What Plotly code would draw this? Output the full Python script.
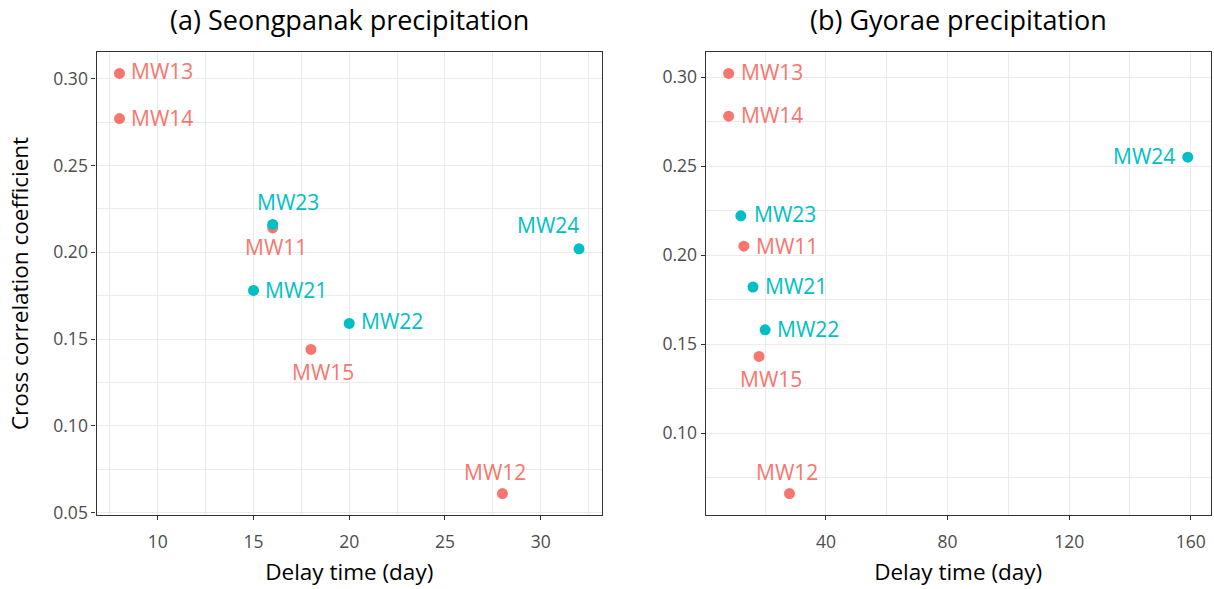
import plotly.graph_objects as go

# ---------------- data ----------------
wells = ["MW13", "MW14", "MW23", "MW11", "MW24", "MW21", "MW22", "MW15", "MW12"]
group = ["MW1", "MW1", "MW2", "MW1", "MW2", "MW2", "MW2", "MW1", "MW1"]

seong_delay = [8, 8, 16, 16, 32, 15, 20, 18, 28]
seong_corr = [0.303, 0.277, 0.216, 0.214, 0.202, 0.178, 0.159, 0.144, 0.061]

gyorae_delay = [8, 8, 12, 13, 159, 16, 20, 18, 28]
gyorae_corr = [0.302, 0.278, 0.222, 0.205, 0.255, 0.182, 0.158, 0.143, 0.066]

panel_titles = ["(a) Seongpanak precipitation", "(b) Gyorae precipitation"]
x_title = "Delay time (day)"
y_title = "Cross correlation coefficient"

# ---------------- styles ----------------
colors = {"MW1": "#F8766D", "MW2": "#00BFC4"}
FONT = "Open Sans"

# label placement (xanchor, xshift px, yshift px) for each well, per panel
seong_lab = {
    "MW13": ("left", 10, 2), "MW14": ("left", 10, 1), "MW23": ("center", 15, 22),
    "MW11": ("center", 3, -19), "MW24": ("center", -31, 24), "MW21": ("left", 9, 0),
    "MW22": ("left", 10, 2), "MW15": ("center", 12, -23), "MW12": ("center", -7, 22),
}
gyorae_lab = {
    "MW13": ("left", 10, 1), "MW14": ("left", 10, 1), "MW23": ("left", 11, 2),
    "MW11": ("left", 10, 0), "MW24": ("right", -11, 1), "MW21": ("left", 10, 1),
    "MW22": ("left", 10, 1), "MW15": ("center", 12, -23), "MW12": ("center", -2, 22),
}


def expand(vals, mult=0.05):
    lo, hi = min(vals), max(vals)
    d = (hi - lo) * mult
    return [lo - d, hi + d]


fig = go.Figure()

panels = [
    (seong_delay, seong_corr, seong_lab, "x", "y"),
    (gyorae_delay, gyorae_corr, gyorae_lab, "x2", "y2"),
]

for xs, ys, labs, xa, ya in panels:
    for g in ["MW1", "MW2"]:
        idx = [i for i, gg in enumerate(group) if gg == g]
        fig.add_trace(go.Scatter(
            x=[xs[i] for i in idx], y=[ys[i] for i in idx],
            mode="markers", xaxis=xa, yaxis=ya, showlegend=False,
            marker=dict(size=11, color=colors[g], line=dict(width=0)),
            hoverinfo="x+y",
        ))
    for i, w in enumerate(wells):
        anc, dx, dy = labs[w]
        fig.add_annotation(
            x=xs[i], y=ys[i], xref=xa, yref=ya, text=w, showarrow=False,
            xanchor=anc, yanchor="middle", xshift=dx, yshift=dy,
            font=dict(family=FONT, size=21, color=colors[group[i]]),
        )

grid_major = "#EBEBEB"
frame_col = "#333333"
tick_font = dict(family=FONT, size=17.5, color="#4D4D4D")
title_font = dict(family=FONT, size=22.5, color="#000000")

common_axis = dict(
    showline=True, mirror=True, linecolor=frame_col, linewidth=1.2,
    ticks="outside", ticklen=4, tickwidth=1.3, tickcolor=frame_col,
    showgrid=True, gridcolor=grid_major, gridwidth=1.4,
    zeroline=False, tickfont=tick_font,
)

H, W = 589, 1214
yb, yt = 1 - 522.5 / H, 1 - 53.3 / H
xl1, xr1 = 96.5 / W, 602 / W
xl2, xr2 = 705.7 / W, 1210.7 / W

fig.update_layout(
    width=W, height=H,
    margin=dict(l=0, r=0, t=0, b=0),
    paper_bgcolor="white", plot_bgcolor="white",
    xaxis=dict(domain=[xl1, xr1], range=expand(seong_delay),
               tick0=0, dtick=5, ticklabelstandoff=7,
               minor=dict(showgrid=True, gridcolor=grid_major, gridwidth=0.7, tick0=2.5, dtick=5, ticks=""),
               title=dict(text=x_title, font=title_font, standoff=12),
               anchor="y", **common_axis),
    yaxis=dict(domain=[yb, yt], range=expand(seong_corr),
               tick0=0, dtick=0.05, tickformat=".2f",
               minor=dict(showgrid=True, gridcolor=grid_major, gridwidth=0.7, tick0=0.025, dtick=0.05, ticks=""),
               title=dict(text=y_title, font=title_font, standoff=18),
               anchor="x", **common_axis),
    xaxis2=dict(domain=[xl2, xr2], range=expand(gyorae_delay),
                tick0=0, dtick=40, ticklabelstandoff=7,
                minor=dict(showgrid=True, gridcolor=grid_major, gridwidth=0.7, tick0=20, dtick=40, ticks=""),
                title=dict(text=x_title, font=title_font, standoff=12),
                anchor="y2", **common_axis),
    yaxis2=dict(domain=[yb, yt], range=expand(gyorae_corr),
                tick0=0, dtick=0.05, tickformat=".2f",
                minor=dict(showgrid=True, gridcolor=grid_major, gridwidth=0.7, tick0=0.025, dtick=0.05, ticks=""),
                anchor="x2", **common_axis),
)

for t, (x0, x1) in zip(panel_titles, [(xl1, xr1), (xl2, xr2)]):
    fig.add_annotation(
        x=(x0 + x1) / 2, y=1 - 20 / H, xref="paper", yref="paper",
        text=t, showarrow=False, xanchor="center", yanchor="middle",
        font=dict(family=FONT, size=27, color="#000000"),
    )

fig.write_html("out.html")
